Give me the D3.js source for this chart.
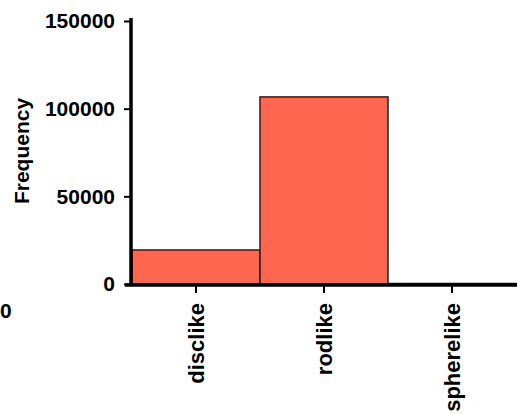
<!DOCTYPE html>
<html>
<head>
<meta charset="utf-8">
<script src="https://cdn.jsdelivr.net/npm/d3@7"></script>
<style>
  html, body { margin: 0; padding: 0; background: #fff; }
  svg text { font-family: "Liberation Sans", Arial, Helvetica, sans-serif; font-weight: bold; fill: #000; }
</style>
</head>
<body>
<svg id="chart" width="517" height="414"></svg>
<script>
// Particle shape counts
const categories = ["disclike", "rodlike", "spherelike"];
const counts = [19400, 106700, 300];
const yTicks = [0, 50000, 100000, 150000];

const svg = d3.select("#chart");
const W = 517, H = 414;
const axisX = 131;

const x = d3.scaleBand().domain(categories).range([132, 516]).padding(0);
const y = d3.scaleLinear().domain([0, 150000]).range([284, 21]);

// bars
svg.append("g").selectAll("rect")
  .data(categories.map((c, i) => ({ c, v: counts[i] })))
  .join("rect")
  .attr("x", d => x(d.c))
  .attr("y", d => y(d.v))
  .attr("width", x.bandwidth())
  .attr("height", d => y(0) - y(d.v))
  .attr("fill", "#ff6650")
  .attr("stroke", "#222")
  .attr("stroke-width", 1.5);

// y axis
const yAxis = svg.append("g")
  .attr("transform", `translate(${axisX},0)`)
  .call(d3.axisLeft(y).tickValues(yTicks).tickFormat(d3.format("d")).tickSize(7).tickSizeOuter(0).tickPadding(9));
yAxis.select(".domain").remove();
yAxis.selectAll(".tick line").attr("stroke", "#000").attr("stroke-width", 2);
yAxis.selectAll(".tick text").style("font-size", "21px");
yAxis.append("line")
  .attr("x1", 0).attr("x2", 0)
  .attr("y1", y(150000) - 3).attr("y2", y(0) + 2)
  .attr("stroke", "#000").attr("stroke-width", 3.5);

// x axis
const xAxis = svg.append("g")
  .attr("transform", `translate(0,${y(0) + 1})`)
  .call(d3.axisBottom(x).tickSize(8).tickSizeOuter(0).tickPadding(10));
xAxis.select(".domain").remove();
xAxis.selectAll(".tick line").attr("stroke", "#000").attr("stroke-width", 2);
xAxis.selectAll(".tick text")
  .style("font-size", "22px")
  .attr("text-anchor", "end")
  .attr("dy", "0.35em")
  .attr("transform", "translate(0,18) rotate(-90)")
  .attr("x", 0).attr("y", 0);
xAxis.append("line")
  .attr("x1", axisX - 6).attr("x2", W)
  .attr("y1", 0).attr("y2", 0)
  .attr("stroke", "#000").attr("stroke-width", 3.5);

// y axis title
svg.append("text")
  .attr("transform", `translate(29,151) rotate(-90)`)
  .attr("text-anchor", "middle")
  .style("font-size", "21px")
  .text("Frequency");

// neighbouring panel's tick label at the left edge
svg.append("text")
  .attr("x", 0).attr("y", 318)
  .style("font-size", "21px")
  .text("0");
</script>
</body>
</html>
